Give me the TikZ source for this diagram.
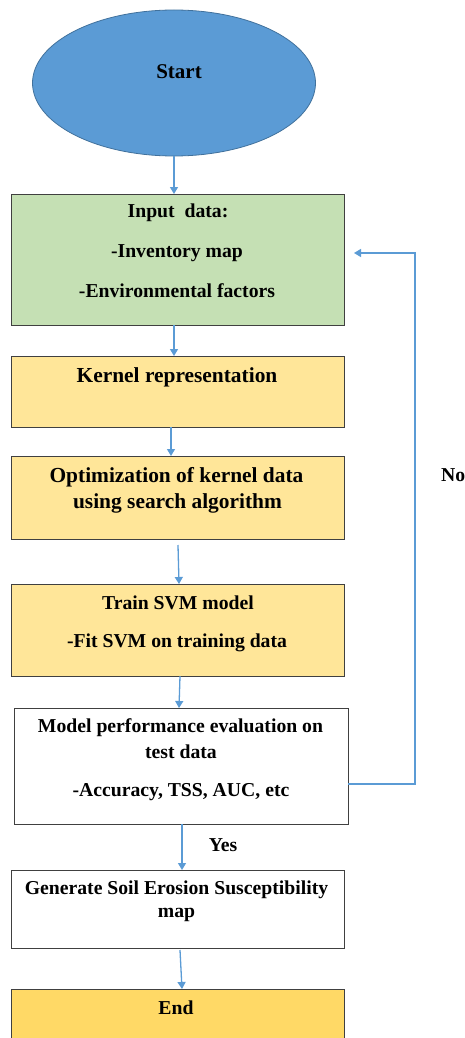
\documentclass[tikz,border=0pt]{standalone}
\usepackage{fontspec}
\setmainfont{Liberation Serif}
\usetikzlibrary{arrows.meta,shapes.geometric}
\definecolor{startblue}{HTML}{5B9BD5}
\definecolor{startedge}{HTML}{41719C}
\definecolor{arrblue}{HTML}{5B9BD5}
\definecolor{greenfill}{HTML}{C5E0B4}
\definecolor{yellowfill}{HTML}{FFE699}
\definecolor{endfill}{HTML}{FFD966}
\definecolor{boxedge}{HTML}{404040}
\tikzset{
  box/.style={draw=boxedge, line width=0.8pt, rectangle, inner sep=0pt, outer sep=0pt},
  lbl/.style={font=\bfseries\fontsize{19.7}{22}\selectfont, inner sep=0pt},
  lblbig/.style={font=\bfseries\fontsize{21.4}{24}\selectfont, inner sep=0pt},
  arr/.style={draw=arrblue, line width=1.3pt, -{Triangle[length=7pt,width=8pt]}},
}
\begin{document}
\begin{tikzpicture}[x=1pt,y=-1pt]
\useasboundingbox (0,0) rectangle (464,1038);
% shapes
\node[ellipse, draw=startedge, line width=0.8pt, fill=startblue, minimum width=283pt, minimum height=146pt, inner sep=0pt, outer sep=0pt] (start) at (174,83) {};
\node[box, fill=greenfill, minimum width=333pt, minimum height=131pt] (input) at (177.5,259.5) {};
\node[box, fill=yellowfill, minimum width=333pt, minimum height=71pt] (kernel) at (177.5,391.5) {};
\node[box, fill=yellowfill, minimum width=333pt, minimum height=83pt] (opt) at (177.5,497.5) {};
\node[box, fill=yellowfill, minimum width=333pt, minimum height=92pt] (train) at (177.5,630) {};
\node[box, fill=white, minimum width=334pt, minimum height=116pt] (model) at (181,766) {};
\node[box, fill=white, minimum width=333pt, minimum height=78pt] (gen) at (177.5,909) {};
\node[box, fill=endfill, minimum width=333pt, minimum height=60pt] (end) at (177.5,1019) {};
% texts
\node[font=\bfseries\fontsize{21}{24}\selectfont, inner sep=0pt] (tstart) at (179,72) {Start};
\node[lbl] (tin1) at (178,213) {Input\ \ data:};
\node[lbl] (tin2) at (177,253) {-Inventory map};
\node[lbl] (tin3) at (177,291) {-Environmental factors};
\node[lblbig] (tker) at (177,377) {Kernel representation};
\node[lblbig] (topt1) at (176.5,477) {Optimization of kernel data};
\node[lblbig] (topt2) at (177.5,503) {using search algorithm};
\node[lbl] (ttr1) at (178,603) {Train SVM model};
\node[lbl] (ttr2) at (177,643) {-Fit SVM on training data};
\node[lbl] (tmo1) at (180.5,728) {Model performance evaluation on};
\node[lbl] (tmo2) at (181,752) {test data};
\node[lbl] (tmo3) at (181,792) {-Accuracy, TSS, AUC, etc};
\node[lbl] (tgen1) at (176.5,890) {Generate Soil Erosion Susceptibility};
\node[lbl] (tgen2) at (176.5,915) {map};
\node[lbl] (tend) at (176,1008) {End};
\node[lbl] (tyes) at (223,845) {Yes};
\node[lbl, anchor=west] (tno) at (441,475) {No};
% connectors
\draw[arr] (start.south) -- (start.south |- input.north);
\draw[arr] ([xshift=-3.5pt]input.south) -- ([xshift=-3.5pt]kernel.north);
\draw[arr] ([xshift=-6.5pt]kernel.south) -- ([xshift=-6.5pt]opt.north);
\draw[arr] ([xshift=0.5pt,yshift=-6pt]opt.south) -- ([xshift=1.5pt]train.north);
\draw[arr] ([xshift=2.5pt]train.south) -- ([xshift=-2pt]model.north);
\draw[arr] ([xshift=1pt]model.south) -- ([xshift=4.5pt]gen.north);
\draw[arr] ([xshift=2.5pt,yshift=-2pt]gen.south) -- ([xshift=4.5pt]end.north);
\draw[arr] ([yshift=-18pt]model.east) -- ++(67pt,0) |- ([xshift=10pt,yshift=6.5pt]input.east);
\end{tikzpicture}
\end{document}
